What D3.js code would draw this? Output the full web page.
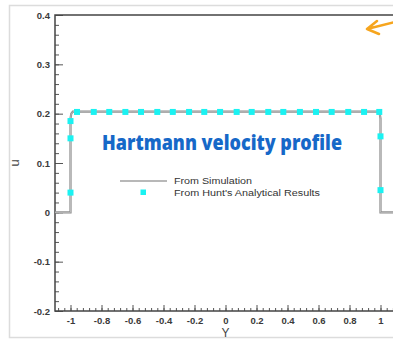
<!DOCTYPE html>
<html lang="en">
<head>
<meta charset="utf-8">
<title>Hartmann velocity profile</title>
<script src="https://d3js.org/d3.v7.min.js"></script>
<style>
  body { margin: 0; background: #fff; }
  svg { display: block; }
</style>
</head>
<body>
<script>
// Width and height
var w = 393;
var h = 339;

// Simulation profile (Y, u)
var simY = [-1.1, -1, -1, -0.995, -0.985, 0.985, 0.995, 1, 1, 1.1];
var simU = [0, 0, 0.19, 0.2, 0.204, 0.204, 0.2, 0.19, 0, 0];

// Hunt's analytical results (Y, u)
var huntY = [-1, -1, -1, -0.958, -0.85, -0.75, -0.646, -0.545, -0.44, -0.34, -0.235, -0.137, -0.035,
             0.072, 0.169, 0.276, 0.373, 0.48, 0.584, 0.685, 0.792, 0.894, 0.992, 1, 1];
var huntU = [0.04, 0.15, 0.185, 0.2035, 0.2035, 0.2035, 0.2035, 0.2035, 0.2035, 0.2035, 0.2035, 0.2035, 0.2035,
             0.2035, 0.2035, 0.2035, 0.2035, 0.2035, 0.2035, 0.2035, 0.2035, 0.2035, 0.2035, 0.154, 0.045];

var xTicks = [-1, -0.8, -0.6, -0.4, -0.2, 0, 0.2, 0.4, 0.6, 0.8, 1];
var xTickLabels = ["-1", "-0.8", "-0.6", "-0.4", "-0.2", "0", "0.2", "0.4", "0.6", "0.8", "1"];
var yTicks = [-0.2, -0.1, 0, 0.1, 0.2, 0.3, 0.4];
var yTickLabels = ["-0.2", "-0.1", "0", "0.1", "0.2", "0.3", "0.4"];

var xScale = d3.scaleLinear().domain([-1.1, 1.1]).range([55, 396]);
var yScale = d3.scaleLinear().domain([-0.2, 0.4]).range([311, 15]);

var svg = d3.select("body").append("svg")
    .attr("width", w)
    .attr("height", h);

// light outer frame
svg.append("rect")
   .attr("x", 9.5).attr("y", 5.5)
   .attr("width", 400).attr("height", 332)
   .attr("fill", "none")
   .attr("stroke", "#dcdcdc")
   .attr("stroke-width", 1.5);

// minor ticks
var xMinor = d3.range(-27, 28).map(function(i) { return i * 0.04; });
var yMinor = d3.range(-10, 21).map(function(i) { return i * 0.02; });

var xAxisMinor = d3.axisBottom(xScale).tickValues(xMinor).tickSize(-3).tickFormat("");
var xAxis = d3.axisBottom(xScale).tickValues(xTicks).tickSize(-6).tickPadding(6)
              .tickFormat(function(d, i) { return xTickLabels[i]; });
var yAxisMinor = d3.axisLeft(yScale).tickValues(yMinor).tickSize(-4).tickFormat("");
var yAxis = d3.axisLeft(yScale).tickValues(yTicks).tickSize(-8).tickPadding(5)
              .tickFormat(function(d, i) { return yTickLabels[i]; });

function styleAxis(g) {
  g.select(".domain").remove();
  g.selectAll("line").attr("stroke", "#555").attr("stroke-width", 1);
  g.selectAll("text").attr("fill", "#3a3a3a")
   .attr("font-family", "Liberation Sans, Arial, sans-serif")
   .attr("font-size", "9.5px")
   .attr("font-weight", "bold");
}

svg.append("g").attr("transform", "translate(0," + yScale(-0.2) + ")").call(xAxisMinor).call(styleAxis);
svg.append("g").attr("transform", "translate(0," + yScale(-0.2) + ")").call(xAxis).call(styleAxis);
svg.append("g").attr("transform", "translate(" + xScale(-1.1) + ",0)").call(yAxisMinor).call(styleAxis);
svg.append("g").attr("transform", "translate(" + xScale(-1.1) + ",0)").call(yAxis).call(styleAxis);

// plot frame
svg.append("path")
   .attr("d", "M" + xScale(1.1) + "," + yScale(0.4) +
              "H" + xScale(-1.1) + "V" + yScale(-0.2) + "H" + xScale(1.1))
   .attr("fill", "none")
   .attr("stroke", "#444")
   .attr("stroke-width", 1.5);

// axis titles
svg.append("text")
   .attr("x", xScale(0)).attr("y", 337)
   .attr("text-anchor", "middle")
   .attr("font-family", "Liberation Sans, Arial, sans-serif")
   .attr("font-size", "12px")
   .attr("fill", "#444")
   .text("Y");

svg.append("text")
   .attr("transform", "translate(19," + yScale(0.1) + ") rotate(-90)")
   .attr("text-anchor", "middle")
   .attr("font-family", "Liberation Sans, Arial, sans-serif")
   .attr("font-size", "13px")
   .attr("fill", "#444")
   .text("u");

// simulation line
var line = d3.line()
    .x(function(d) { return xScale(d[0]); })
    .y(function(d) { return yScale(d[1]); });

var simData = simY.map(function(d, i) { return [d, simU[i]]; });

svg.append("path")
   .datum(simData)
   .attr("d", line)
   .attr("fill", "none")
   .attr("stroke", "#8a8a8a")
   .attr("stroke-width", 2.2);

svg.append("path")
   .datum(simData)
   .attr("d", line)
   .attr("fill", "none")
   .attr("stroke", "#d8d8d8")
   .attr("stroke-width", 0.6);

// analytical markers
svg.selectAll("rect.hunt")
   .data(huntY)
   .enter()
   .append("rect")
   .attr("class", "hunt")
   .attr("x", function(d) { return xScale(d) - 3; })
   .attr("y", function(d, i) { return yScale(huntU[i]) - 3; })
   .attr("width", 6)
   .attr("height", 6)
   .attr("fill", "#1af2f2");

// title
svg.append("text")
   .attr("x", 102).attr("y", 150)
   .attr("font-family", "Open Sans, sans-serif")
   .attr("font-weight", "800")
   .attr("font-size", "21px")
   .attr("textLength", 240)
   .attr("lengthAdjust", "spacingAndGlyphs")
   .attr("fill", "#1668c8")
   .text("Hartmann velocity profile");

// legend
svg.append("line")
   .attr("x1", 120).attr("x2", 167)
   .attr("y1", 181).attr("y2", 181)
   .attr("stroke", "#b8b8b8")
   .attr("stroke-width", 2);

svg.append("rect")
   .attr("x", 140.5).attr("y", 189.5)
   .attr("width", 5.5).attr("height", 5.5)
   .attr("fill", "#1af2f2");

svg.append("text")
   .attr("x", 174).attr("y", 183.5)
   .attr("font-family", "Liberation Sans, Arial, sans-serif")
   .attr("font-size", "8.5px")
   .attr("textLength", 78)
   .attr("lengthAdjust", "spacingAndGlyphs")
   .attr("fill", "#333")
   .text("From Simulation");

svg.append("text")
   .attr("x", 174).attr("y", 195.5)
   .attr("font-family", "Liberation Sans, Arial, sans-serif")
   .attr("font-size", "8.5px")
   .attr("textLength", 146)
   .attr("lengthAdjust", "spacingAndGlyphs")
   .attr("fill", "#333")
   .text("From Hunt's Analytical Results");

// orange arrow
svg.append("path")
   .attr("d", "M395,22 L367,29 M377,21 L367,29 L379,34")
   .attr("fill", "none")
   .attr("stroke", "#f6a51e")
   .attr("stroke-width", 2.5)
   .attr("stroke-linecap", "round")
   .attr("stroke-linejoin", "round");
</script>
</body>
</html>
